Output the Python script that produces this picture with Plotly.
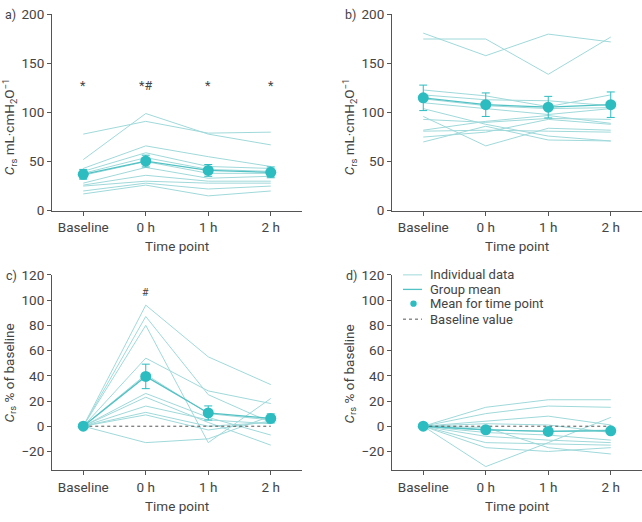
import plotly.graph_objects as go

# ---------------- data ----------------
time_points = ["Baseline", "0 h", "1 h", "2 h"]

# Panel a: Crs (mL/cmH2O), individual subjects
a_individual = [
    [78, 91, 79, 80],
    [52, 99, 78, 67],
    [43, 66, 55, 45],
    [40, 59, 45, 43],
    [38, 54, 42, 40],
    [36, 50, 38, 38],
    [28, 44, 33, 35],
    [26, 36, 30, 30],
    [25, 30, 28, 28],
    [20, 28, 22, 25],
    [17, 26, 15, 20],
]
a_mean = [37, 50.5, 41, 39]
a_err = [5, 6, 6, 5.5]
a_marks = ["*", "*#", "*", "*"]

# Panel b: Crs (mL/cmH2O), individual subjects
b_individual = [
    [175, 175, 139, 177],
    [181, 158, 180, 172],
    [123, 117, 106, 118],
    [118, 113, 112, 107],
    [114, 107, 104, 105],
    [110, 104, 98, 104],
    [104, 88, 76, 71],
    [96, 66, 84, 82],
    [93, 90, 94, 93],
    [82, 91, 97, 89],
    [81, 82, 81, 80],
    [75, 80, 93, 88],
    [70, 86, 72, 71],
]
b_mean = [115, 108, 105.5, 108]
b_err = [13, 12, 11, 13]

# Panel c: Crs % of baseline
c_individual = [
    [0, 96, 55, 33],
    [0, 87, 25, 3],
    [0, 80, -13, 22],
    [0, 54, 28, 18],
    [0, 41, 10, 5],
    [0, 26, 7, -7],
    [0, 23, 3, -15],
    [0, 16, 5, 2],
    [0, 11, 0, 3],
    [0, 9, -3, 4],
    [0, -13, -10, 8],
]
c_mean = [0, 39.5, 10.5, 6.2]
c_err = [0, 9.7, 5.6, 3.6]
c_marks = ["", "#", "", ""]

# Panel d: Crs % of baseline
d_individual = [
    [0, 15, 21, 21],
    [0, 10, 16, 15],
    [0, 4, 8, 1],
    [0, 2, 1, -5],
    [0, -3, -4, -3],
    [0, -5, -7, -11],
    [0, -8, -11, -13],
    [0, -13, -14, -15],
    [0, -17, -20, -17],
    [0, -32, -13, 7],
    [0, -1, -17, -22],
]
d_mean = [0, -2.8, -4.1, -3.6]
d_err = [0, 2.2, 2.0, 2.0]

baseline_value = [0, 0, 0, 0]

legend_labels = ["Individual data", "Group mean", "Mean for time point", "Baseline value"]

# ---------------- style ----------------
IND_COLOR = "#a0d9da"
MEAN_LINE = "#52c2c4"
MARKER = "#2dbcc0"
AXIS = "#555555"
TEXT = "#444444"
FONT = "Roboto"
TICK_SIZE = 13.5

W, H = 642, 522
def px(x):
    return x / W
def py(y):
    return 1 - y / H

fig = go.Figure()

panels = [
    ("x", "y", a_individual, a_mean, a_err, False),
    ("x2", "y2", b_individual, b_mean, b_err, False),
    ("x3", "y3", c_individual, c_mean, c_err, True),
    ("x4", "y4", d_individual, d_mean, d_err, True),
]

for i, (xa, ya, ind, mean, err, has_base) in enumerate(panels):
    for j, row in enumerate(ind):
        fig.add_trace(go.Scatter(
            x=time_points, y=row, mode="lines", xaxis=xa, yaxis=ya,
            line=dict(color=IND_COLOR, width=1),
            name=legend_labels[0], showlegend=False, hoverinfo="skip"))
    fig.add_trace(go.Scatter(
        x=time_points, y=mean, mode="lines", xaxis=xa, yaxis=ya,
        line=dict(color=MEAN_LINE, width=1.3),
        name=legend_labels[1], showlegend=False))
    if has_base:
        fig.add_trace(go.Scatter(
            x=time_points, y=baseline_value, mode="lines", xaxis=xa, yaxis=ya,
            line=dict(color="#555555", width=1, dash="dot"),
            name=legend_labels[3], showlegend=False))
    fig.add_trace(go.Scatter(
        x=time_points, y=mean, mode="markers", xaxis=xa, yaxis=ya,
        marker=dict(color=MARKER, size=11),
        error_y=dict(type="data", array=err, visible=True, color=MARKER,
                     thickness=1, width=4),
        name=legend_labels[2], showlegend=False))

annotations = []
shapes = []

# significance marks
for tp, m in zip(time_points, a_marks):
    if m:
        annotations.append(dict(x=tp, y=128, xref="x", yref="y", text=m,
                                showarrow=False, font=dict(size=12.5, color=TEXT, family=FONT)))
for tp, m in zip(time_points, c_marks):
    if m:
        annotations.append(dict(x=tp, y=106, xref="x3", yref="y3", text=m,
                                showarrow=False, font=dict(size=10.5, color=TEXT, family=FONT)))

# panel labels
for lab, x, y in [("a)", 3, 7), ("b)", 343, 7), ("c)", 4, 276), ("d)", 344, 276)]:
    annotations.append(dict(x=px(x), y=py(y), xref="paper", yref="paper", text=lab,
                            xanchor="left", yanchor="middle", showarrow=False,
                            font=dict(size=12.5, color=TEXT, family=FONT)))

# axis titles
ytitle_top = "<i>C</i><sub>rs</sub> mL·cmH<sub>2</sub>O<sup>−1</sup>"
ytitle_bot = "<i>C</i><sub>rs</sub> % of baseline"
for txt, x, y in [(ytitle_top, 10, 123), (ytitle_top, 350, 123),
                  (ytitle_bot, 10, 377), (ytitle_bot, 350, 377)]:
    annotations.append(dict(x=px(x), y=py(y), xref="paper", yref="paper", text=txt,
                            textangle=-90, xanchor="center", yanchor="middle",
                            showarrow=False, font=dict(size=13.5, color=TEXT, family=FONT)))
for x, y in [(177, 246), (517, 246), (177, 514), (517, 514)]:
    annotations.append(dict(x=px(x), y=py(y), xref="paper", yref="paper", text="Time point",
                            xanchor="center", yanchor="middle", showarrow=False,
                            font=dict(size=13.5, color=TEXT, family=FONT)))

# legend (panel d, top-left)
leg_rows = [275.3, 290.3, 305, 321]
leg_x0, leg_x1, leg_tx = 403, 422, 428
shapes.append(dict(type="line", xref="paper", yref="paper",
                   x0=px(leg_x0), x1=px(leg_x1), y0=py(leg_rows[0]), y1=py(leg_rows[0]),
                   line=dict(color=IND_COLOR, width=1)))
shapes.append(dict(type="line", xref="paper", yref="paper",
                   x0=px(leg_x0), x1=px(leg_x1), y0=py(leg_rows[1]), y1=py(leg_rows[1]),
                   line=dict(color=MEAN_LINE, width=1.3)))
cx, r = (leg_x0 + leg_x1) / 2 + 1, 3.2
shapes.append(dict(type="circle", xref="paper", yref="paper",
                   x0=px(cx - r), x1=px(cx + r), y0=py(leg_rows[2] + r), y1=py(leg_rows[2] - r),
                   fillcolor=MARKER, line=dict(width=0)))
shapes.append(dict(type="line", xref="paper", yref="paper",
                   x0=px(leg_x0), x1=px(leg_x1), y0=py(leg_rows[3]), y1=py(leg_rows[3]),
                   line=dict(color="#555555", width=1, dash="dot")))
for lab, yy in zip(legend_labels, leg_rows):
    annotations.append(dict(x=px(leg_tx), y=py(yy), xref="paper", yref="paper", text=lab,
                            xanchor="left", yanchor="middle", showarrow=False,
                            font=dict(size=13, color=TEXT, family=FONT)))

xcommon = dict(type="category", range=[-0.5, 3.5], showline=True, linecolor=AXIS,
               linewidth=1, ticks="outside", ticklen=4, tickcolor=AXIS,
               showgrid=False, zeroline=False,
               tickfont=dict(size=TICK_SIZE, color=TEXT, family=FONT))
ycommon = dict(showline=True, linecolor=AXIS, linewidth=1, ticks="outside", ticklen=4,
               tickcolor=AXIS, showgrid=False, zeroline=False,
               tickfont=dict(size=TICK_SIZE, color=TEXT, family=FONT))

top_dom = [py(209), py(6.7)]
bot_dom = [py(477), py(275.3)]
left_dom = [px(52), px(302)]
right_dom = [px(392), 1.0]

fig.update_layout(
    width=W, height=H, margin=dict(l=0, r=0, t=0, b=0),
    paper_bgcolor="white", plot_bgcolor="white",
    font=dict(family=FONT, color=TEXT),
    showlegend=False,
    xaxis=dict(domain=left_dom, anchor="y", **xcommon),
    yaxis=dict(domain=top_dom, anchor="x", range=[0, 200], tickvals=[0, 50, 100, 150, 200], **ycommon),
    xaxis2=dict(domain=right_dom, anchor="y2", **xcommon),
    yaxis2=dict(domain=top_dom, anchor="x2", range=[0, 200], tickvals=[0, 50, 100, 150, 200], **ycommon),
    xaxis3=dict(domain=left_dom, anchor="y3", **xcommon),
    yaxis3=dict(domain=bot_dom, anchor="x3", range=[-35, 120], tickvals=list(range(-20, 121, 20)), **ycommon),
    xaxis4=dict(domain=right_dom, anchor="y4", **xcommon),
    yaxis4=dict(domain=bot_dom, anchor="x4", range=[-35, 120], tickvals=list(range(-20, 121, 20)), **ycommon),
    annotations=annotations,
    shapes=shapes,
)

post = ("document.documentElement.style.margin='0';"
        "document.documentElement.style.padding='0';"
        "document.body.style.margin='0';document.body.style.padding='0';"
        "document.body.style.overflow='hidden';"
        "var d=document.getElementById('{plot_id}');"
        "d.style.position='fixed';d.style.left='0px';d.style.top='0px';")

fig.write_html("out.html", config={"displayModeBar": False}, post_script=post)
